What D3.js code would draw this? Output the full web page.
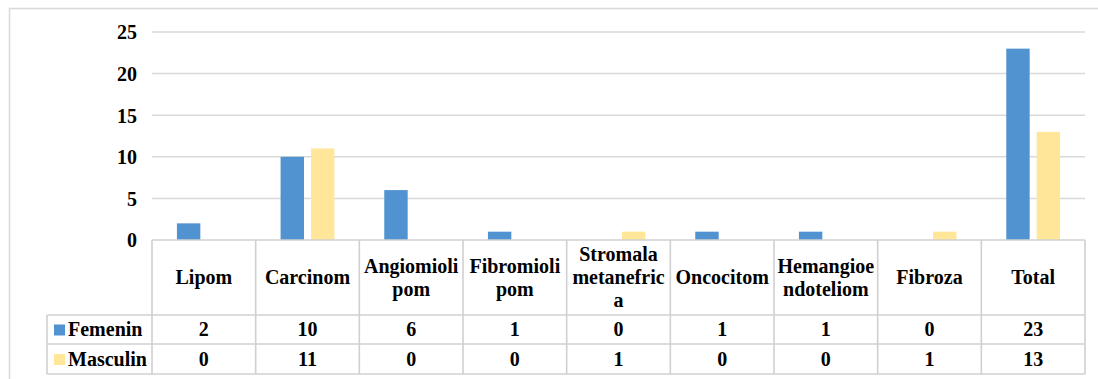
<!DOCTYPE html>
<html>
<head>
<meta charset="utf-8">
<script src="https://cdn.jsdelivr.net/npm/d3@7"></script>
<style>
  html, body { margin: 0; padding: 0; background: #fff; }
  svg { display: block; }
</style>
</head>
<body>
<svg id="chart" width="1098" height="379"></svg>
<script>
// Tumour types (header row of the data table); "\n" marks wrapped lines
const categories = ["Lipom", "Carcinom", "Angiomioli\npom", "Fibromioli\npom", "Stromala\nmetanefric\na", "Oncocitom", "Hemangioe\nndoteliom", "Fibroza", "Total"];
const seriesNames = ["Femenin", "Masculin"];
const femenin = [2, 10, 6, 1, 0, 1, 1, 0, 23];
const masculin = [0, 11, 0, 0, 1, 0, 0, 1, 13];
const yTicks = [0, 5, 10, 15, 20, 25];
const colors = ["#5093d0", "#ffe699"];

const seriesValues = [femenin, masculin];
const FONT = "'Liberation Serif', 'Times New Roman', 'DejaVu Serif', serif";

const svg = d3.select("#chart");
const W = 1098, H = 379;

const plot = { left: 152, right: 1085, top: 32, bottom: 240 };
const table = { legendLeft: 47, headerBottom: 315, row1Bottom: 344, row2Bottom: 374 };

const x0 = d3.scaleBand().domain(d3.range(categories.length)).range([plot.left, plot.right]).padding(0);
const x1 = d3.scaleBand().domain(seriesNames).range([0, x0.bandwidth()]).paddingInner(0.23).paddingOuter(0.82);
const y = d3.scaleLinear().domain([0, 25]).range([plot.bottom, plot.top]);

function label(sel) {
  return sel.style("font-family", FONT).style("font-weight", "bold")
    .style("font-size", "20px").style("fill", "#000");
}

// chart frame
svg.append("rect")
  .attr("x", 9.5).attr("y", 8.5)
  .attr("width", W + 10).attr("height", H + 10)
  .attr("fill", "none").attr("stroke", "#d9d9d9").attr("stroke-width", 1.5);

// horizontal gridlines
svg.append("g").selectAll("line").data(yTicks.filter(t => t > 0)).join("line")
  .attr("x1", plot.left).attr("x2", plot.right)
  .attr("y1", d => y(d)).attr("y2", d => y(d))
  .attr("stroke", "#d9d9d9").attr("stroke-width", 1.5);

// y axis labels
const yAxis = d3.axisLeft(y).tickValues(yTicks).tickSize(0).tickPadding(0).tickFormat(d3.format("d"));
const yg = svg.append("g").attr("transform", `translate(${plot.left - 15},0)`).call(yAxis);
yg.select(".domain").remove();
yg.selectAll("text").call(label).attr("dy", "0.34em");

// bars
const groups = svg.append("g").selectAll("g").data(categories).join("g")
  .attr("transform", (d, i) => `translate(${x0(i)},0)`);
groups.selectAll("rect").data((d, i) => seriesNames.map((s, k) => ({ s, k, v: seriesValues[k][i] })))
  .join("rect")
  .filter(d => d.v > 0)
  .attr("x", d => x1(d.s))
  .attr("width", x1.bandwidth())
  .attr("y", d => y(d.v))
  .attr("height", d => y(0) - y(d.v))
  .attr("fill", d => colors[d.k]);

// data table grid
const grid = svg.append("g").attr("stroke", "#d0d0d0").attr("stroke-width", 1.6).attr("fill", "none");
grid.append("line").attr("x1", plot.left).attr("x2", plot.right).attr("y1", plot.bottom).attr("y2", plot.bottom);
[table.headerBottom, table.row1Bottom, table.row2Bottom].forEach(yy => {
  grid.append("line").attr("x1", table.legendLeft).attr("x2", plot.right).attr("y1", yy).attr("y2", yy);
});
grid.append("line").attr("x1", table.legendLeft).attr("x2", table.legendLeft)
  .attr("y1", table.headerBottom).attr("y2", table.row2Bottom);
d3.range(categories.length + 1).forEach(i => {
  const xx = i < categories.length ? x0(i) : plot.right;
  grid.append("line").attr("x1", xx).attr("x2", xx).attr("y1", plot.bottom).attr("y2", table.row2Bottom);
});

// header labels
const headerMid = (plot.bottom + table.headerBottom) / 2;
const lineH = 23;
categories.forEach((c, i) => {
  const lines = c.split("\n");
  const t = svg.append("text")
    .attr("text-anchor", "middle")
    .call(label);
  lines.forEach((ln, j) => {
    t.append("tspan")
      .attr("x", x0(i) + x0.bandwidth() / 2)
      .attr("y", headerMid + (j - (lines.length - 1) / 2) * lineH)
      .attr("dy", "0.34em")
      .text(ln);
  });
});

// value rows with legend keys
const rowMids = [(table.headerBottom + table.row1Bottom) / 2, (table.row1Bottom + table.row2Bottom) / 2];
seriesNames.forEach((s, k) => {
  svg.append("rect")
    .attr("x", 54).attr("y", rowMids[k] - 5)
    .attr("width", 11).attr("height", 11)
    .attr("fill", colors[k]);
  svg.append("text")
    .attr("x", 68).attr("y", rowMids[k]).attr("dy", "0.34em")
    .call(label)
    .text(s);
  seriesValues[k].forEach((v, i) => {
    svg.append("text")
      .attr("x", x0(i) + x0.bandwidth() / 2)
      .attr("y", rowMids[k]).attr("dy", "0.34em")
      .attr("text-anchor", "middle")
      .call(label)
      .text(v);
  });
});
</script>
</body>
</html>
